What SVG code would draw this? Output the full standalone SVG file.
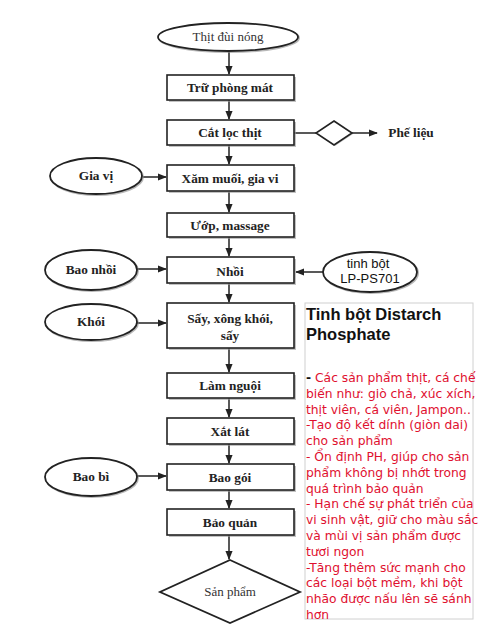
<svg xmlns="http://www.w3.org/2000/svg" width="480" height="640" viewBox="0 0 480 640">
<style>
.box{fill:#fff;stroke:#222;stroke-width:1.6}
.sh{fill:#999;opacity:0.6}
.ell{fill:#fff;stroke:#222;stroke-width:1.8}
.esh{fill:none;stroke:#888;stroke-width:2;opacity:0.6}
.lbl{font-family:"Liberation Serif",serif;font-weight:bold;font-size:13.3px;fill:#222;text-anchor:middle}
.reg{font-family:"Liberation Serif",serif;font-size:13px;fill:#333;text-anchor:middle}
.san{font-family:"Liberation Sans",sans-serif;font-size:13px;fill:#111;text-anchor:middle}
.con{stroke:#222;stroke-width:1.5;fill:none}
.ttl{font-family:"Liberation Sans",sans-serif;font-weight:bold;font-size:16.5px;fill:#111}
.red{font-family:"DejaVu Sans",sans-serif;font-size:12.3px;fill:#e0102f}
</style>
<defs>
<marker id="ah" viewBox="0 0 10 10" refX="9" refY="5" markerWidth="6" markerHeight="6" orient="auto">
<path d="M0,1 L10,5 L0,9 z" fill="#222"/>
</marker>
</defs>
<rect width="480" height="640" fill="#fff"/>

<g id="connectors">
<line class="con" x1="229" y1="50" x2="229" y2="74" marker-end="url(#ah)"/>
<line class="con" x1="229" y1="100" x2="229" y2="119" marker-end="url(#ah)"/>
<line class="con" x1="229" y1="145" x2="229" y2="164" marker-end="url(#ah)"/>
<line class="con" x1="229" y1="192" x2="229" y2="212" marker-end="url(#ah)"/>
<line class="con" x1="229" y1="237" x2="229" y2="256" marker-end="url(#ah)"/>
<line class="con" x1="229" y1="283" x2="229" y2="302" marker-end="url(#ah)"/>
<line class="con" x1="229" y1="348" x2="229" y2="372" marker-end="url(#ah)"/>
<line class="con" x1="229" y1="398" x2="229" y2="417" marker-end="url(#ah)"/>
<line class="con" x1="229" y1="444" x2="229" y2="463" marker-end="url(#ah)"/>
<line class="con" x1="229" y1="490" x2="229" y2="508" marker-end="url(#ah)"/>
<line class="con" x1="229" y1="535" x2="229" y2="559" marker-end="url(#ah)"/>
<line class="con" x1="294" y1="133" x2="316" y2="133"/>
<line class="con" x1="352" y1="133" x2="377" y2="133" marker-end="url(#ah)"/>
<line class="con" x1="143" y1="177" x2="166" y2="177" marker-end="url(#ah)"/>
<line class="con" x1="137" y1="269" x2="166" y2="269" marker-end="url(#ah)"/>
<line class="con" x1="323" y1="272" x2="296" y2="272" marker-end="url(#ah)"/>
<line class="con" x1="137" y1="323" x2="166" y2="323" marker-end="url(#ah)"/>
<line class="con" x1="137" y1="476" x2="166" y2="476" marker-end="url(#ah)"/>
</g>

<g id="n-thit">
<ellipse class="esh" cx="229" cy="38" rx="70" ry="14"/>
<ellipse class="ell" cx="228" cy="37" rx="70" ry="14"/>
<text class="reg" x="228" y="41">Thịt đùi nóng</text>
</g>
<g id="n-tru">
<rect class="sh" x="169" y="77" width="127" height="25"/>
<rect class="box" x="167" y="75" width="127" height="25"/>
<text class="lbl" x="230" y="92">Trữ phòng mát</text>
</g>
<g id="n-cat">
<rect class="sh" x="169" y="122" width="127" height="25"/>
<rect class="box" x="167" y="120" width="127" height="25"/>
<text class="lbl" x="230" y="137">Cắt lọc thịt</text>
</g>
<g id="n-dia">
<polygon points="335,123 353,134 335,146 318,134" fill="#999" opacity="0.6"/>
<polygon points="334,121 352,133 334,145 316,133" fill="#fff" stroke="#222" stroke-width="1.6"/>
</g>
<g id="n-phelieu">
<text class="lbl" x="411" y="137">Phế liệu</text>
</g>
<g id="n-giavi">
<ellipse class="esh" cx="97" cy="177" rx="46" ry="18"/>
<ellipse class="ell" cx="96" cy="176" rx="46" ry="18"/>
<text class="lbl" x="96" y="180">Gia vị</text>
</g>
<g id="n-xam">
<rect class="sh" x="169" y="167" width="127" height="26"/>
<rect class="box" x="167" y="165" width="127" height="26"/>
<text class="lbl" x="230" y="183">Xăm muối, gia vi</text>
</g>
<g id="n-uop">
<rect class="sh" x="169" y="215" width="127" height="24"/>
<rect class="box" x="167" y="213" width="127" height="24"/>
<text class="lbl" x="230" y="230">Ướp, massage</text>
</g>
<g id="n-baonhoi">
<ellipse class="esh" cx="92" cy="271" rx="46" ry="20"/>
<ellipse class="ell" cx="91" cy="270" rx="46" ry="20"/>
<text class="lbl" x="91" y="274">Bao nhồi</text>
</g>
<g id="n-nhoi">
<rect class="sh" x="169" y="259" width="127" height="26"/>
<rect class="box" x="167" y="257" width="127" height="26"/>
<text class="lbl" x="230" y="276">Nhồi</text>
</g>
<g id="n-tinhbot">
<ellipse class="esh" cx="371" cy="273" rx="47" ry="20"/>
<ellipse class="ell" cx="370" cy="272" rx="47" ry="20"/>
<text class="san" x="368" y="268">tinh bột</text>
<text class="san" x="370" y="283">LP-PS701</text>
</g>
<g id="n-khoi">
<ellipse class="esh" cx="92" cy="323" rx="46" ry="18"/>
<ellipse class="ell" cx="91" cy="322" rx="46" ry="18"/>
<text class="lbl" x="91" y="326">Khói</text>
</g>
<g id="n-say">
<rect class="sh" x="169" y="305" width="127" height="45"/>
<rect class="box" x="167" y="303" width="127" height="45"/>
<text class="lbl" x="230" y="323">Sấy, xông khói,</text>
<text class="lbl" x="230" y="340">sấy</text>
</g>
<g id="n-lamnguoi">
<rect class="sh" x="169" y="375" width="127" height="25"/>
<rect class="box" x="167" y="373" width="127" height="25"/>
<text class="lbl" x="230" y="390">Làm nguội</text>
</g>
<g id="n-xat">
<rect class="sh" x="169" y="420" width="127" height="26"/>
<rect class="box" x="167" y="418" width="127" height="26"/>
<text class="lbl" x="230" y="436">Xắt lát</text>
</g>
<g id="n-baobi">
<ellipse class="esh" cx="92" cy="478" rx="46" ry="19"/>
<ellipse class="ell" cx="91" cy="477" rx="46" ry="19"/>
<text class="lbl" x="91" y="481">Bao bì</text>
</g>
<g id="n-baogoi">
<rect class="sh" x="169" y="466" width="127" height="26"/>
<rect class="box" x="167" y="464" width="127" height="26"/>
<text class="lbl" x="230" y="482">Bao gói</text>
</g>
<g id="n-baoquan">
<rect class="sh" x="169" y="511" width="127" height="26"/>
<rect class="box" x="167" y="509" width="127" height="26"/>
<text class="lbl" x="230" y="527">Bảo quản</text>
</g>
<g id="n-sanpham">
<polygon points="230,560 300,592 230,623 160,592" fill="#fff" stroke="#222" stroke-width="1.8"/>
<text class="reg" x="230" y="596">Sản phẩm</text>
</g>
<g id="n-note">
<rect x="305" y="303" width="168" height="316" fill="#fff" stroke="#d0d0d0" stroke-width="1"/>
<text class="ttl" x="306" y="320">Tinh bột Distarch</text>
<text class="ttl" x="306" y="340">Phosphate</text>
<text class="red" x="306" y="382"><tspan fill="#111" font-weight="bold">-</tspan> Các sản phẩm thịt, cá chế</text>
<text class="red" x="306" y="397.8">biến như: giò chả, xúc xích,</text>
<text class="red" x="306" y="413.6">thịt viên, cá viên, Jampon..</text>
<text class="red" x="306" y="429.4">-Tạo độ kết dính (giòn dai)</text>
<text class="red" x="306" y="445.2">cho sản phẩm</text>
<text class="red" x="306" y="461">- Ổn định PH, giúp cho sản</text>
<text class="red" x="306" y="476.8">phẩm không bị nhớt trong</text>
<text class="red" x="306" y="492.6">quá trình bảo quản</text>
<text class="red" x="306" y="508.4">- Hạn chế sự phát triển của</text>
<text class="red" x="306" y="524.2">vi sinh vật, giữ cho màu sắc</text>
<text class="red" x="306" y="540">và mùi vị sản phẩm được</text>
<text class="red" x="306" y="555.8">tươi ngon</text>
<text class="red" x="306" y="571.6">-Tăng thêm sức mạnh cho</text>
<text class="red" x="306" y="587.4">các loại bột mềm, khi bột</text>
<text class="red" x="306" y="603.2">nhão được nấu lên sẽ sánh</text>
<text class="red" x="306" y="619">hơn</text>
</g>
</svg>
